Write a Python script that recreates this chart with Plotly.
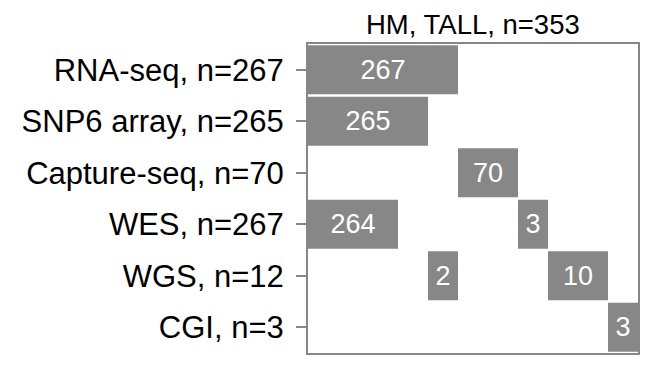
import plotly.graph_objects as go

# Data
platforms = ["RNA-seq, n=267", "SNP6 array, n=265", "Capture-seq, n=70",
             "WES, n=267", "WGS, n=12", "CGI, n=3"]
seg_platform = ["RNA-seq, n=267", "SNP6 array, n=265", "Capture-seq, n=70",
                "WES, n=267", "WES, n=267", "WGS, n=12", "WGS, n=12", "CGI, n=3"]
seg_start = [0, 0, 5, 0, 7, 4, 8, 10]
seg_end = [5, 4, 7, 3, 8, 5, 10, 11]
seg_count = [267, 265, 70, 264, 3, 2, 10, 3]
title_text = "HM, TALL, n=353"

FONT = "Liberation Sans, Arial, Helvetica, sans-serif"
GREY = "#878787"

widths = [e - s for s, e in zip(seg_start, seg_end)]

fig = go.Figure(go.Bar(
    orientation="h",
    y=seg_platform,
    x=widths,
    base=seg_start,
    text=[str(c) for c in seg_count],
    textposition="inside",
    insidetextanchor="middle",
    textfont=dict(family=FONT, size=27, color="white"),
    marker=dict(color=GREY, line=dict(width=0)),
    width=0.95,
    hoverinfo="skip",
))

# page body has an 8px default margin; size the figure so the plot lands at the reference position
fig.update_layout(
    width=650, height=358,
    margin=dict(l=300, r=20, t=36, b=13, autoexpand=False),
    plot_bgcolor="white", paper_bgcolor="white",
    showlegend=False,
    font=dict(family=FONT, color="black"),
    annotations=[dict(
        text=title_text, x=0.5, xref="paper", y=1, yref="paper",
        yanchor="bottom", yshift=2, showarrow=False,
        font=dict(family=FONT, size=27.5, color="black"),
    )],
)
fig.update_xaxes(range=[0, 11], showgrid=False, zeroline=False,
                 showticklabels=False, ticks="", automargin=False,
                 showline=True, mirror=True, linecolor=GREY, linewidth=2)
fig.update_yaxes(categoryorder="array", categoryarray=platforms,
                 autorange="reversed", showgrid=False, zeroline=False,
                 automargin=False,
                 ticks="outside", ticklen=10, tickwidth=1.5, tickcolor=GREY,
                 tickfont=dict(family=FONT, size=31, color="black"),
                 ticklabelstandoff=6,
                 showline=True, mirror=True, linecolor=GREY, linewidth=2)

fig.write_html("out.html")
